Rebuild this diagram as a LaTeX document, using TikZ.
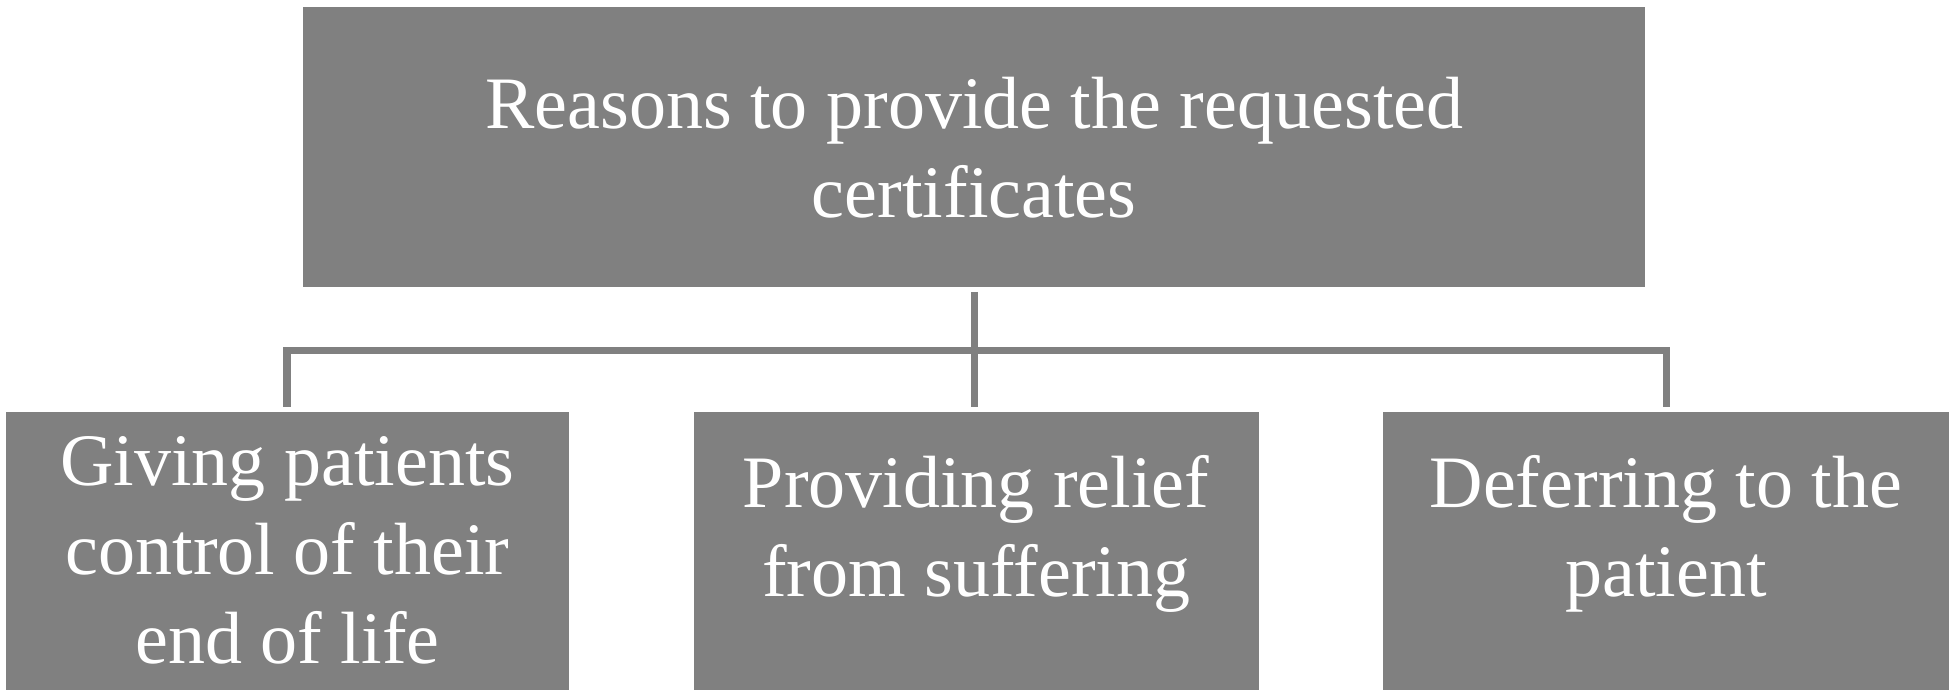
\documentclass[tikz,border=0pt]{standalone}
\usepackage{fontspec}
\setmainfont{Liberation Serif}
\begin{document}
\begin{tikzpicture}[x=1.2474pt,y=-1.2474pt,
 box/.style={fill=boxgray,text=white,align=center,inner sep=0pt,font=\fontsize{74}{89}\selectfont},
 conn/.style={draw=boxgray,line width=7.5pt}]
\definecolor{boxgray}{HTML}{808080}
\useasboundingbox (0,0) rectangle (1568,559);
\fill[boxgray] (243,6) rectangle (1319,230);
\node[box] (top) at (781,118) {Reasons to provide the requested\\certificates};
\fill[boxgray] (5,330) rectangle (456,553);
\fill[boxgray] (556,330) rectangle (1009,553);
\fill[boxgray] (1109,330) rectangle (1562,553);
\node[box] (a) at (230.5,441) {Giving patients\\control of their\\end of life};
\node[box] (b) at (782.5,428) {Providing relief\\from suffering};
\node[box] (c) at (1335.5,428) {Deferring to the\\patient};
\coordinate (t0) at (781,234);
\coordinate (h) at (781,281);
\coordinate (l) at (230,281);
\coordinate (r) at (1336,281);
\draw[conn] (t0) -- (781,326);
\draw[conn,line join=miter] (230,326) -- (l) -- (r) -- (1336,326);
\end{tikzpicture}
\end{document}
